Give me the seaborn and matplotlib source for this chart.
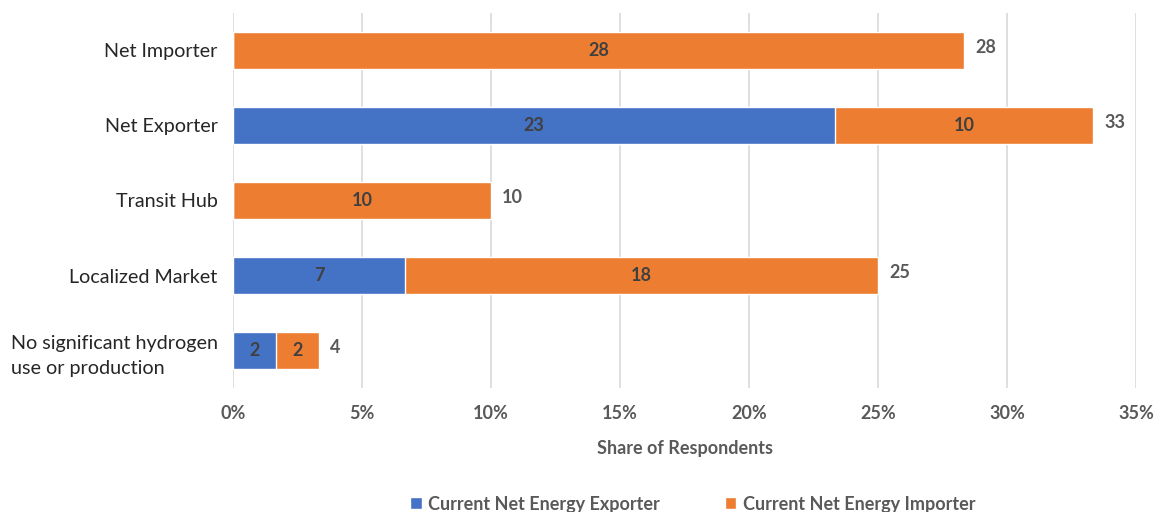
import matplotlib
matplotlib.use("Agg")
import matplotlib.pyplot as plt
import seaborn as sns
import pandas as pd
from matplotlib.patches import Patch
from matplotlib.ticker import PercentFormatter

categories = ["Net Importer", "Net Exporter", "Transit Hub", "Localized Market",
              "No significant hydrogen\nuse or production"]
exporter_pct = [0.0, 23.33, 0.0, 6.67, 1.67]
importer_pct = [28.33, 10.0, 10.0, 18.33, 1.67]
series_names = ["Current Net Energy Exporter", "Current Net Energy Importer"]
x_ticks = [0, 5, 10, 15, 20, 25, 30, 35]

BLUE = "#4472C4"
ORANGE = "#ED7D31"
LABEL_DARK = "#404040"
TICK_GRAY = "#595959"

sns.set_theme(style="white")
plt.rcParams["font.family"] = ["Lato", "DejaVu Sans"]

df = pd.DataFrame({"category": categories,
                   "exporter": exporter_pct,
                   "importer": importer_pct})
df["total"] = df["exporter"] + df["importer"]

fig = plt.figure(figsize=(11.58, 5.12), dpi=100)
ax = fig.add_axes([0.2012, 0.242, 0.7800, 0.733])

# stacked bars: full total in orange, exporter share drawn over it in blue
sns.barplot(data=df, y="category", x="total", color=ORANGE, orient="h",
            width=0.5, saturation=1, ax=ax, zorder=3)
sns.barplot(data=df, y="category", x="exporter", color=BLUE, orient="h",
            width=0.5, saturation=1, ax=ax, zorder=4)

ax.set_xlim(0, 35)
ax.set_ylim(4.5, -0.5)
ax.set_xticks(x_ticks)
ax.xaxis.set_major_formatter(PercentFormatter(decimals=0))
ax.grid(axis="x", color="#D9D9D9", linewidth=1.2, zorder=0)
ax.grid(axis="y", visible=False)
for s in ax.spines.values():
    s.set_visible(False)
ax.tick_params(axis="both", length=0)
ax.tick_params(axis="x", pad=12, labelsize=13, labelcolor=TICK_GRAY)
ax.tick_params(axis="y", pad=11, labelsize=14.2, labelcolor="#262626")
for t in ax.get_xticklabels():
    t.set_fontweight("bold")
for t in ax.get_yticklabels():
    t.set_multialignment("left")
    t.set_linespacing(1.55)
ax.set_ylabel("")
ax.set_xlabel("Share of Respondents", fontsize=13, fontweight="bold",
              color=TICK_GRAY, labelpad=13)

# segment and total labels
for i, row in df.iterrows():
    exp_lbl = round(row["exporter"])
    imp_lbl = round(row["importer"])
    if row["exporter"] > 0:
        ax.text(row["exporter"] / 2, i, f"{exp_lbl}", ha="center", va="center",
                fontsize=13, fontweight="bold", color=LABEL_DARK, zorder=5)
    if row["importer"] > 0:
        ax.text(row["exporter"] + row["importer"] / 2, i, f"{imp_lbl}",
                ha="center", va="center", fontsize=13, fontweight="bold",
                color=LABEL_DARK, zorder=5)
    ax.annotate(f"{exp_lbl + imp_lbl}", (row["total"], i), xytext=(8, 2),
                textcoords="offset points", ha="left", va="center",
                fontsize=13, fontweight="bold", color=TICK_GRAY)

handles = [Patch(facecolor=BLUE), Patch(facecolor=ORANGE)]
leg = fig.legend(handles, series_names, loc="lower center", ncol=2,
                 bbox_to_anchor=(0.598, -0.033), frameon=False,
                 handlelength=0.65, handleheight=0.65, handletextpad=0.35,
                 columnspacing=3.6, prop={"size": 13, "weight": "bold"})
for t in leg.get_texts():
    t.set_color(TICK_GRAY)

fig.savefig("out.png", dpi=100)
